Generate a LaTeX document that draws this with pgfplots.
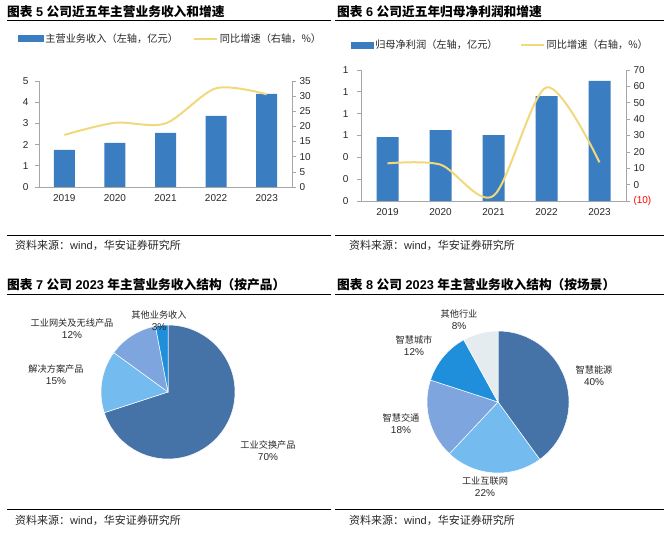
\documentclass[border=0pt]{standalone}
\usepackage{pgfplots}
\pgfplotsset{compat=1.18}
\usepackage{fontspec}
\setmainfont{Liberation Sans}
\newfontfamily\cjk{Noto Sans CJK SC}
\definecolor{barblue}{HTML}{3A7DC0}
\definecolor{lineyel}{HTML}{F2D87C}
\definecolor{pA}{HTML}{4573A8}
\definecolor{pB}{HTML}{74BCF0}
\definecolor{pC}{HTML}{7FA5DE}
\definecolor{pD}{HTML}{1F8FDC}
\definecolor{pE}{HTML}{E4ECF0}
\definecolor{axgray}{HTML}{A6A6A6}
\definecolor{txt}{HTML}{262626}
\newcommand\tfont{\fontsize{12.7}{14}\selectfont}
\newcommand\lfont{\fontsize{10.2}{12}\selectfont}
\newcommand\pfont{\fontsize{9.2}{12.6}\selectfont}
\newcommand\sfont{\fontsize{11}{12}\selectfont}
\pgfplotsset{
  combo/.style={scale only axis, anchor=south west, xmin=-0.5, xmax=4.5,
    /pgf/number format/assume math mode=true,
    axis line style={draw=axgray, line width=0.7pt, -},
    tick align=outside, major tick length=4pt,
    ytick style={draw=axgray, line width=0.7pt},
    xtick style={draw=none},
    tick label style={font=\fontsize{10}{12}\selectfont, text=txt},
  },
  yelline/.style={legend image code/.code={\draw[lineyel, line width=2pt] (0pt,0pt) -- (23pt,0pt);}},
  barleg5/.style={legend image code/.code={\fill[barblue] (0pt,-3pt) rectangle (25pt,3pt);}},
  barleg6/.style={legend image code/.code={\fill[barblue] (0pt,-3pt) rectangle (22pt,3pt);}},
}
\begin{document}
\begin{tikzpicture}[x=1pt,y=1pt]
\useasboundingbox (0,0) rectangle (666,544);
% ---------- titles and rules ----------
\node[anchor=west, inner sep=0pt] at (7,532) {\tfont{\cjk\bfseries 图表} {\bfseries 5} {\cjk\bfseries 公司近五年主营业务收入和增速}};
\node[anchor=west, inner sep=0pt] at (337,532) {\tfont{\cjk\bfseries 图表} {\bfseries 6} {\cjk\bfseries 公司近五年归母净利润和增速}};
\node[anchor=west, inner sep=0pt] at (7,259) {\tfont{\cjk\bfseries 图表} {\bfseries 7} {\cjk\bfseries 公司} {\bfseries 2023} {\cjk\bfseries 年主营业务收入结构（按产品）}};
\node[anchor=west, inner sep=0pt] at (337,259) {\tfont{\cjk\bfseries 图表} {\bfseries 8} {\cjk\bfseries 公司} {\bfseries 2023} {\cjk\bfseries 年主营业务收入结构（按场景）}};
\draw[black, line width=0.9pt] (7,524) -- (331,524);
\draw[black, line width=0.9pt] (335,524) -- (664,524);
\draw[black, line width=0.9pt] (7,309) -- (331,309);
\draw[black, line width=0.9pt] (335,309) -- (664,309);
\draw[black, line width=0.9pt] (7,250) -- (331,250);
\draw[black, line width=0.9pt] (335,250) -- (664,250);
\draw[black, line width=0.9pt] (7,35) -- (331,35);
\draw[black, line width=0.9pt] (335,35) -- (664,35);
\node[anchor=west, inner sep=0pt, text=txt] at (15,298.5) {\sfont{\cjk 资料来源：}wind{\cjk ，华安证券研究所}};
\node[anchor=west, inner sep=0pt, text=txt] at (349,298.5) {\sfont{\cjk 资料来源：}wind{\cjk ，华安证券研究所}};
\node[anchor=west, inner sep=0pt, text=txt] at (15,24) {\sfont{\cjk 资料来源：}wind{\cjk ，华安证券研究所}};
\node[anchor=west, inner sep=0pt, text=txt] at (349,24) {\sfont{\cjk 资料来源：}wind{\cjk ，华安证券研究所}};
% ---------- chart 5 ----------
\begin{axis}[combo, at={(39pt,357pt)}, width=253pt, height=106pt,
  ymin=0, ymax=5, ytick={0,...,5},
  axis x line*=bottom, axis y line*=left,
  xtick={0,...,4}, xticklabels={2019,2020,2021,2022,2023},
  yticklabel style={xshift=-3pt}]
\addplot[ybar, bar width=21pt, fill=barblue, draw=none] coordinates {(0,1.75) (1,2.08) (2,2.55) (3,3.35) (4,4.39)};
\end{axis}
\begin{axis}[combo, at={(39pt,357pt)}, width=253pt, height=106pt,
  ymin=0, ymax=35, ytick={0,5,...,35},
  axis y line*=right, axis x line=none,
  legend style={at={(0.52,1.40)}, anchor=center, draw=none, fill=none, font=\cjk\lfont, text=txt,
    /tikz/every even column/.append style={column sep=13pt}},
  legend columns=2, legend cell align=left]
\addlegendimage{barleg5}
\addlegendentry{主营业务收入（左轴，亿元）}
\addplot[smooth, lineyel, line width=2pt, yelline] coordinates {(0,17.2) (1,21.2) (2,21.0) (3,32.6) (4,30.6)};
\addlegendentry{同比增速（右轴，\%）}
\end{axis}
% ---------- chart 6 ----------
\begin{axis}[combo, at={(361pt,343pt)}, width=265pt, height=131pt,
  ymin=0, ymax=1.2, ytick={0,0.2,0.4,0.6,0.8,1.0,1.2}, yticklabels={0,0,0,1,1,1,1},
  axis x line*=bottom, axis y line*=left,
  xtick={0,...,4}, xticklabels={2019,2020,2021,2022,2023},
  yticklabel style={xshift=-5pt}]
\addplot[ybar, bar width=22pt, fill=barblue, draw=none] coordinates {(0,0.586) (1,0.65) (2,0.604) (3,0.96) (4,1.10)};
\end{axis}
\begin{axis}[combo, at={(361pt,343pt)}, width=265pt, height=131pt,
  ymin=-10, ymax=70, ytick={-10,0,10,...,70},
  yticklabels={\textcolor{red}{(10)},0,10,20,30,40,50,60,70},
  axis y line*=right, axis x line=none,
  legend style={at={(0.526,1.19)}, anchor=center, draw=none, fill=none, font=\cjk\lfont, text=txt,
    /tikz/every even column/.append style={column sep=20pt}},
  legend columns=2, legend cell align=left]
\addlegendimage{barleg6}
\addlegendentry{归母净利润（左轴，亿元）}
\addplot[smooth, lineyel, line width=2pt, yelline] coordinates {(0,13.0) (1,12.2) (2,-6.8) (3,59.4) (4,13.6)};
\addlegendentry{同比增速（右轴，\%）}
\end{axis}
% ---------- chart 7 (pie) ----------
\begin{scope}[shift={(168,152)}]
\gdef\cum{90}
\foreach \p/\c in {70/pA,15/pB,12/pC,3/pD}{
  \pgfmathsetmacro\e{\cum-3.6*\p}
  \fill[\c, draw=white, line width=0.5pt] (0,0) -- (\cum:67pt) arc[start angle=\cum, end angle=\e, radius=67pt] -- cycle;
  \xdef\cum{\e}
}
\end{scope}
\node[align=center, text=txt, inner sep=0pt] at (159,223.5) {\pfont{\cjk 其他业务收入}\\3\%};
\node[align=center, text=txt, inner sep=0pt] at (72,215) {\pfont{\cjk 工业网关及无线产品}\\12\%};
\node[align=center, text=txt, inner sep=0pt] at (56,169) {\pfont{\cjk 解决方案产品}\\15\%};
\node[align=center, text=txt, inner sep=0pt] at (268,93) {\pfont{\cjk 工业交换产品}\\70\%};
% ---------- chart 8 (pie) ----------
\begin{scope}[shift={(498,142)}]
\gdef\cum{90}
\foreach \p/\c in {40/pA,22/pB,18/pC,12/pD,8/pE}{
  \pgfmathsetmacro\e{\cum-3.6*\p}
  \fill[\c, draw=white, line width=0.5pt] (0,0) -- (\cum:71pt) arc[start angle=\cum, end angle=\e, radius=71pt] -- cycle;
  \xdef\cum{\e}
}
\end{scope}
\node[align=center, text=txt, inner sep=0pt] at (459,224.8) {\pfont{\cjk 其他行业}\\8\%};
\node[align=center, text=txt, inner sep=0pt] at (414,198.7) {\pfont{\cjk 智慧城市}\\12\%};
\node[align=center, text=txt, inner sep=0pt] at (401,120) {\pfont{\cjk 智慧交通}\\18\%};
\node[align=center, text=txt, inner sep=0pt] at (485,57.3) {\pfont{\cjk 工业互联网}\\22\%};
\node[align=center, text=txt, inner sep=0pt] at (594,168) {\pfont{\cjk 智慧能源}\\40\%};
\end{tikzpicture}
\end{document}
